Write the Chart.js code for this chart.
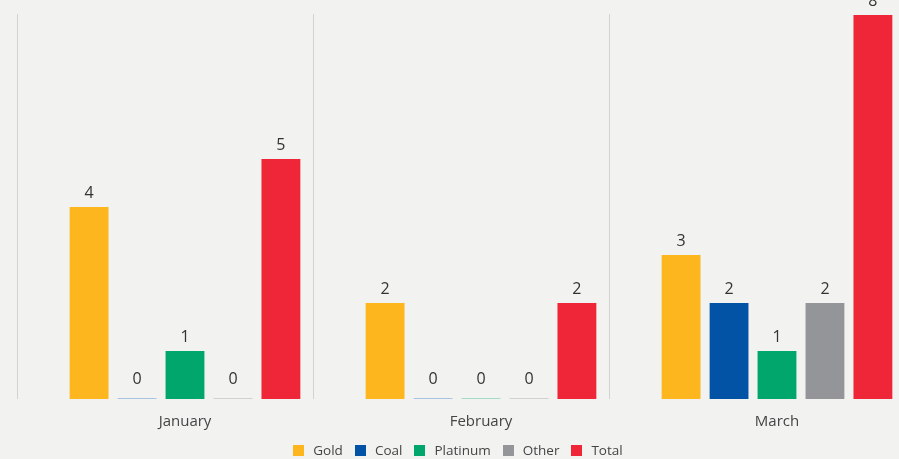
<!DOCTYPE html>
<html>
<head>
<meta charset="utf-8">
<script src="https://cdn.jsdelivr.net/npm/chart.js@4.4.1/dist/chart.umd.min.js"></script>
<style>
  html, body { margin: 0; padding: 0; overflow: hidden; background: #f2f2f1; }
  #wrap { position: relative; width: 930px; height: 459px; }
  #legend { position: absolute; top: 441px; left: 0; width: 916px; text-align: center;
            font-family: 'Open Sans', sans-serif; font-size: 13.5px; color: #444; }
  #legend span.item { display: inline-block; margin: 0 6px; }
  #legend i { display: inline-block; width: 11px; height: 11px; margin-right: 9px; vertical-align: -1px; }
</style>
</head>
<body>
<div id="wrap">
  <canvas id="chart" width="930" height="459"></canvas>
  <div id="legend"></div>
</div>
<script>
// datos
const months = ['January', 'February', 'March'];
const gold = [4, 2, 3];
const coal = [0, 0, 2];
const platinum = [1, 0, 1];
const other = [0, 0, 2];
const total = [5, 2, 8];

const SERIES = [
    { label: 'Gold', data: gold, color: '#fdb61e', light: '#f5d58f' },
    { label: 'Coal', data: coal, color: '#0253a6', light: '#a9c3e3' },
    { label: 'Platinum', data: platinum, color: '#00a66c', light: '#a3dcc4' },
    { label: 'Other', data: other, color: '#939598', light: '#cfd0d2' },
    { label: 'Total', data: total, color: '#ef2637', light: '#f3a3aa' }
];

const FONT = "'Open Sans', sans-serif";

// separadores verticales, corridos a la izquierda del límite de categoría
const dividerPlugin = {
    id: 'dividers',
    beforeDatasetsDraw(chart) {
        const { ctx, chartArea, scales: { x } } = chart;
        const step = x.getPixelForValue(1) - x.getPixelForValue(0);
        ctx.save();
        ctx.strokeStyle = '#d2d2d2';
        ctx.lineWidth = 1;
        for (let i = 0; i < months.length; i++) {
            const px = Math.round(x.getPixelForValue(i) - step / 2 - 20) + 0.5;
            ctx.beginPath();
            ctx.moveTo(px, chartArea.top - 1);
            ctx.lineTo(px, chartArea.bottom);
            ctx.stroke();
        }
        ctx.restore();
    }
};

// etiquetas de valor sobre cada barra
const valueLabels = {
    id: 'valueLabels',
    afterDatasetsDraw(chart) {
        const { ctx } = chart;
        ctx.save();
        ctx.font = '16px ' + FONT;
        ctx.fillStyle = '#333';
        ctx.textAlign = 'center';
        ctx.textBaseline = 'alphabetic';
        chart.data.datasets.forEach((ds, di) => {
            chart.getDatasetMeta(di).data.forEach((bar, i) => {
                const top = Math.min(bar.y, bar.base - 6);
                ctx.fillText(String(ds.data[i]), bar.x, top - 9);
            });
        });
        ctx.restore();
    }
};

const chart = new Chart(document.getElementById('chart'), {
    type: 'bar',
    data: {
        labels: months,
        datasets: SERIES.map(s => ({
            label: s.label,
            data: s.data,
            backgroundColor: c => (c.raw === 0 ? s.light : s.color),
            borderWidth: 0,
            minBarLength: 1,
            barPercentage: 0.81,
            categoryPercentage: 0.81
        }))
    },
    options: {
        responsive: false,
        animation: false,
        layout: { padding: { left: 37, right: 5, top: 15, bottom: 22 } },
        plugins: {
            legend: { display: false },
            tooltip: { enabled: false }
        },
        scales: {
            x: {
                grid: { display: false },
                border: { display: false },
                ticks: { color: '#444', font: { family: FONT, size: 15 }, padding: 6 }
            },
            y: {
                display: false,
                min: 0,
                max: 8
            }
        }
    },
    plugins: [dividerPlugin, valueLabels]
});

// leyenda en HTML
document.getElementById('legend').innerHTML = SERIES.map(s =>
    `<span class="item"><i style="background:${s.color}"></i>${s.label}</span>`
).join('');
</script>
</body>
</html>
